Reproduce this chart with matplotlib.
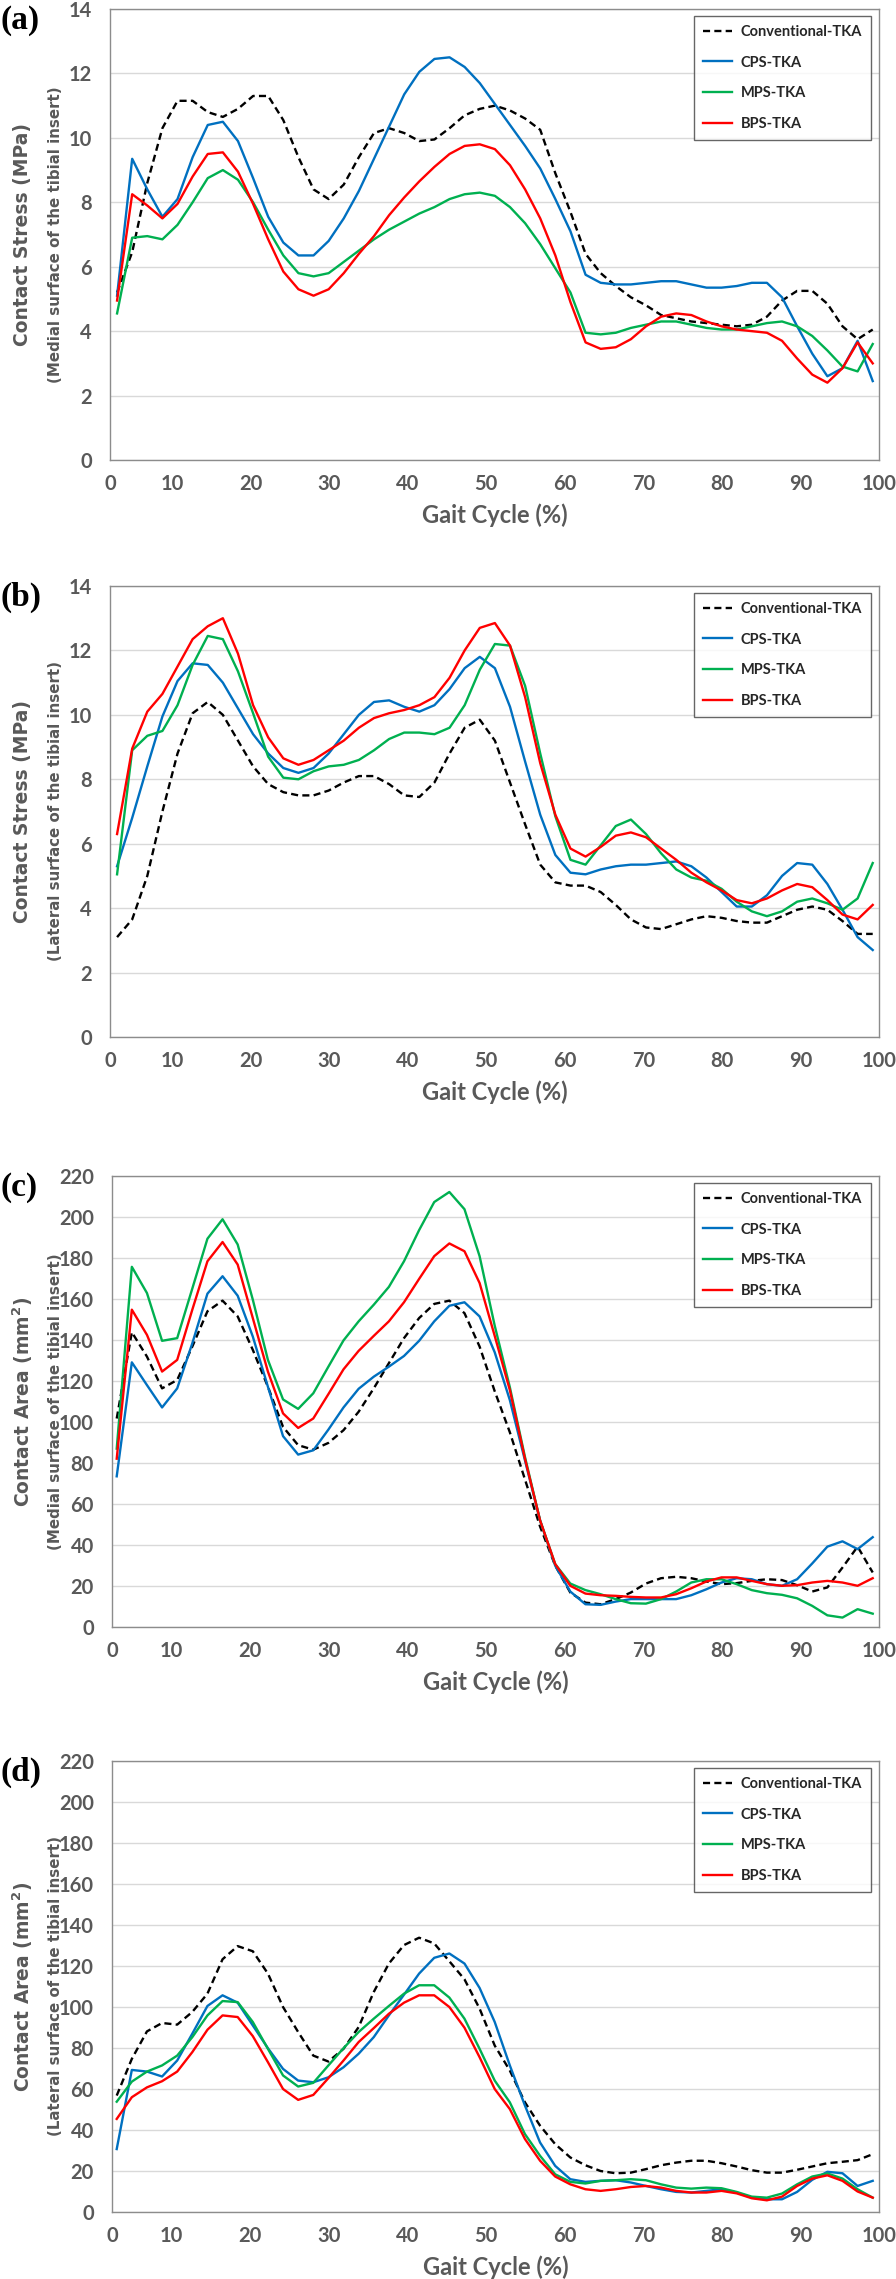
import numpy as np
import matplotlib
matplotlib.use("Agg")
import matplotlib.pyplot as plt
from matplotlib import font_manager
from matplotlib.transforms import offset_copy

# Gait cycle sampling (51 samples)
gait = np.linspace(3.0, 99.2, 51)

# (a) contact stress, medial surface (MPa)
a_conv = [5.2, 6.45, 8.6, 10.3, 11.15, 11.15, 10.8, 10.65, 10.9, 11.3, 11.3, 10.55, 9.4, 8.4, 8.1, 8.55, 9.4,
          10.15, 10.3, 10.15, 9.9, 9.95, 10.3, 10.7, 10.9, 11.0, 10.85, 10.6, 10.25, 8.9, 7.7, 6.4, 5.8, 5.4,
          5.05, 4.8, 4.5, 4.4, 4.3, 4.25, 4.2, 4.15, 4.2, 4.45, 4.95, 5.25, 5.25, 4.85, 4.15, 3.75, 4.05]
a_cps = [5.1, 9.35, 8.4, 7.55, 8.1, 9.4, 10.4, 10.5, 9.9, 8.75, 7.55, 6.75, 6.35, 6.35, 6.8, 7.5, 8.35, 9.35,
         10.35, 11.35, 12.05, 12.45, 12.5, 12.2, 11.7, 11.05, 10.4, 9.75, 9.05, 8.1, 7.1, 5.75, 5.5, 5.45,
         5.45, 5.5, 5.55, 5.55, 5.45, 5.35, 5.35, 5.4, 5.5, 5.5, 5.05, 4.15, 3.3, 2.6, 2.85, 3.7, 2.45]
a_mps = [4.55, 6.9, 6.95, 6.85, 7.3, 8.0, 8.75, 9.0, 8.7, 8.0, 7.15, 6.35, 5.8, 5.7, 5.8, 6.15, 6.5, 6.85,
         7.15, 7.4, 7.65, 7.85, 8.1, 8.25, 8.3, 8.2, 7.85, 7.35, 6.7, 5.95, 5.2, 3.95, 3.9, 3.95, 4.1, 4.2,
         4.3, 4.3, 4.2, 4.1, 4.05, 4.05, 4.15, 4.25, 4.3, 4.15, 3.85, 3.4, 2.9, 2.75, 3.6]
a_bps = [4.95, 8.25, 7.9, 7.5, 7.95, 8.8, 9.5, 9.55, 8.95, 7.95, 6.85, 5.85, 5.3, 5.1, 5.3, 5.8, 6.4, 6.95,
         7.6, 8.15, 8.65, 9.1, 9.5, 9.75, 9.8, 9.65, 9.15, 8.4, 7.5, 6.35, 4.9, 3.65, 3.45, 3.5, 3.75, 4.15,
         4.45, 4.55, 4.5, 4.3, 4.15, 4.05, 4.0, 3.95, 3.7, 3.15, 2.65, 2.4, 2.85, 3.65, 3.0]

# (b) contact stress, lateral surface (MPa)
b_conv = [3.1, 3.65, 5.0, 7.0, 8.8, 10.05, 10.4, 10.0, 9.2, 8.4, 7.85, 7.6, 7.5, 7.5, 7.65, 7.9, 8.1, 8.1,
          7.85, 7.5, 7.45, 7.9, 8.8, 9.6, 9.85, 9.2, 7.9, 6.6, 5.35, 4.8, 4.7, 4.7, 4.5, 4.1, 3.65, 3.4,
          3.35, 3.5, 3.65, 3.75, 3.7, 3.6, 3.55, 3.55, 3.75, 3.95, 4.05, 3.95, 3.6, 3.2, 3.2]
b_cps = [5.3, 6.8, 8.4, 9.95, 11.05, 11.6, 11.55, 11.0, 10.2, 9.4, 8.8, 8.35, 8.2, 8.35, 8.8, 9.4, 10.0, 10.4,
         10.45, 10.25, 10.1, 10.3, 10.8, 11.45, 11.8, 11.45, 10.25, 8.55, 6.9, 5.65, 5.1, 5.05, 5.2, 5.3,
         5.35, 5.35, 5.4, 5.45, 5.3, 4.95, 4.5, 4.05, 4.05, 4.4, 5.0, 5.4, 5.35, 4.75, 3.95, 3.1, 2.7]
b_mps = [5.05, 8.9, 9.35, 9.5, 10.3, 11.55, 12.45, 12.35, 11.35, 10.05, 8.7, 8.05, 8.0, 8.25, 8.4, 8.45, 8.6,
         8.9, 9.25, 9.45, 9.45, 9.4, 9.6, 10.3, 11.4, 12.2, 12.15, 10.9, 8.8, 6.85, 5.5, 5.35, 5.95, 6.55,
         6.75, 6.3, 5.7, 5.2, 4.95, 4.85, 4.6, 4.2, 3.9, 3.75, 3.9, 4.2, 4.3, 4.15, 3.95, 4.3, 5.4]
b_bps = [6.3, 8.95, 10.1, 10.65, 11.5, 12.35, 12.75, 13.0, 11.9, 10.3, 9.3, 8.65, 8.45, 8.6, 8.9, 9.2, 9.6,
         9.9, 10.05, 10.15, 10.3, 10.55, 11.15, 12.0, 12.7, 12.85, 12.15, 10.55, 8.5, 6.9, 5.85, 5.6, 5.9,
         6.25, 6.35, 6.2, 5.85, 5.5, 5.1, 4.8, 4.55, 4.25, 4.15, 4.3, 4.55, 4.75, 4.65, 4.25, 3.8, 3.65, 4.1]

# (c) contact area, medial surface (mm2)
c_conv = [101.7, 143.8, 131.9, 116.4, 120.5, 136.8, 154, 159.2, 151.5, 135.2, 117.2, 97.6, 88.7, 86.5, 89.8,
          96, 105, 116.4, 128.7, 140.9, 150.7, 157.6, 159.2, 153.1, 136.8, 115, 95, 72, 49, 30, 16.8, 11.9,
          11.1, 13.6, 16.8, 21.2, 23.8, 24.5, 23.8, 22.2, 20.9, 21.4, 22.5, 23.3, 22.9, 20.4, 17.3, 19.3, 29,
          39.2, 26.6]
c_cps = [73.5, 129.1, 118, 107.1, 116.4, 138.4, 162.6, 171.1, 161.6, 141.7, 117.2, 93.1, 84.1, 86.2, 96.3,
         107.1, 116.2, 122.1, 127, 132.2, 139.6, 149.1, 156.7, 158.4, 151.5, 134, 110.7, 81.3, 52, 29.9, 17.3,
         11.1, 10.8, 12.4, 13.6, 13.6, 13.6, 13.6, 15.5, 18.4, 21.7, 23.8, 23.3, 20.9, 20.1, 23.3, 31, 39.2,
         41.8, 38, 43.8]
c_mps = [87, 175.7, 162.9, 139.6, 140.9, 165.1, 189.4, 198.9, 186.6, 159.7, 130.3, 111, 106.4, 114, 127,
         139.8, 149.1, 157.2, 165.9, 178.4, 193.6, 207.3, 212.2, 203.8, 180.9, 147, 117, 83, 52, 30.7, 21.2,
         18, 16, 13.6, 11.6, 11.4, 13.6, 17.3, 21.7, 23.3, 23.3, 20.9, 18, 16.5, 15.7, 14, 10.3, 5.7, 4.6,
         8.7, 6.5]
c_bps = [82.1, 154.8, 142.5, 124.6, 130.3, 154.8, 178.4, 187.8, 176.8, 150.7, 124.6, 104.2, 97.1, 101.7,
         113.6, 125.7, 134.7, 142, 149.1, 158.4, 169.8, 180.9, 187.1, 183.3, 167.8, 142, 115.6, 82.1, 52, 30.7,
         20.1, 16.3, 15.5, 15.2, 14.7, 14.4, 14.4, 16, 18.9, 22.2, 24.2, 24.2, 22.5, 20.9, 20.1, 20.4, 21.7,
         22.5, 21.7, 20.1, 23.8]

# (d) contact area, lateral surface (mm2)
d_conv = [56.8, 74.7, 88.1, 92.2, 91.4, 97.6, 106.5, 123.3, 129.7, 127.2, 116.3, 100, 87.8, 76.3, 73.4, 79.6,
          90.2, 107.3, 121.2, 130.2, 133.8, 131, 122.3, 113.5, 99.2, 81.2, 69, 53.5, 42.1, 33.1, 26.6, 22.8,
          20, 18.9, 19.2, 20.9, 22.8, 24.1, 25, 25, 23.8, 22.2, 20.4, 19.2, 19.2, 20.6, 22.2, 23.8, 24.5, 25.3,
          28.2]
d_cps = [30.7, 69.3, 68.5, 66.1, 73.9, 87, 100.5, 105.7, 102.1, 91, 79.9, 69.8, 64.1, 63.3, 65.7, 70.6, 77.2,
         85.3, 95.9, 106, 116.3, 124, 126.1, 121.2, 109.3, 92.7, 71.5, 51.9, 33.9, 22.5, 16, 14.7, 15.2, 15.5,
         14.4, 12.7, 11.1, 9.8, 9.5, 10.3, 11.1, 9.5, 7.0, 6.2, 6.2, 9.8, 15.7, 19.6, 18.9, 12.7, 15.2]
d_mps = [53.8, 63.6, 68.5, 71.5, 76.3, 85.3, 95.9, 102.9, 102.4, 92.7, 79.6, 66.6, 61.2, 63, 71.5, 79.9, 87.8,
         94.3, 100.5, 106.5, 110.6, 110.6, 104.6, 94.3, 79.6, 64.1, 53.5, 38, 27.4, 18.4, 14.7, 13.9, 15.2,
         15.5, 16, 15.5, 13.5, 11.9, 11.4, 11.9, 11.6, 9.8, 7.5, 7.0, 9.0, 13.5, 17.3, 18.8, 16.3, 11.1, 7.0]
d_bps = [45.4, 56, 60.8, 63.8, 68.5, 78, 88.9, 95.9, 95.1, 85.8, 73.1, 60, 54.7, 57.1, 65.3, 73.9, 82.9, 89.7,
         96.7, 102.1, 105.7, 105.7, 100, 89.9, 75.5, 60, 50.2, 35.6, 25, 17.3, 13.5, 11.1, 10.3, 11.1, 12.2,
         12.7, 11.9, 10.3, 9.5, 9.5, 10.3, 9.1, 6.7, 5.7, 7.5, 12.7, 16.3, 17.9, 15.2, 10, 7.0]

series_names = ["Conventional-TKA", "CPS-TKA", "MPS-TKA", "BPS-TKA"]
series_colors = ["black", "#0070C0", "#00B050", "#FF0000"]

panel_labels = ["(a)", "(b)", "(c)", "(d)"]
ylabel_main = ["Contact Stress (MPa)", "Contact Stress (MPa)",
               "Contact Area (mm$^\\mathbf{2}$)", "Contact Area (mm$^\\mathbf{2}$)"]
ylabel_sub = ["(Medial surface of the tibial insert)", "(Lateral surface of the tibial insert)",
              "(Medial surface of the tibial insert)", "(Lateral surface of the tibial insert)"]
ylims = [(0, 14, 2), (0, 14, 2), (0, 220, 20), (0, 220, 20)]
x_left = [2.1, 2.1, 2.4, 2.4]   # the plot area starts a little after 0 in the original
x_ticks = [10, 20, 30, 40, 50, 60, 70, 80, 90, 100]
panel_data = [(a_conv, a_cps, a_mps, a_bps), (b_conv, b_cps, b_mps, b_bps),
              (c_conv, c_cps, c_mps, c_bps), (d_conv, d_cps, d_mps, d_bps)]

# layout, in pixels of the 896x2279 canvas: (left, top, right, bottom)
boxes = [(110, 9, 879, 460), (110, 586, 879, 1037), (112, 1176, 879, 1627), (112, 1761, 879, 2212)]

W, H = 896, 2279
available = {f.name for f in font_manager.fontManager.ttflist}
narrow = "Liberation Sans Narrow" if "Liberation Sans Narrow" in available else "Lato"
GRAY = "#595959"

fig = plt.figure(figsize=(W / 100, H / 100), dpi=100)

for k in range(4):
    left, top, right, bottom = boxes[k]
    ax = fig.add_axes([left / W, 1 - bottom / H, (right - left) / W, (bottom - top) / H])
    ymin, ymax, ystep = ylims[k]

    for vals, name, col in zip(panel_data[k], series_names, series_colors):
        if name == "Conventional-TKA":
            ax.plot(gait, vals, color=col, lw=1.7, dashes=(3.0, 1.8), label=name)
        else:
            ax.plot(gait, vals, color=col, lw=1.7, label=name)

    ax.set_xlim(x_left[k], 100)
    ax.set_ylim(ymin, ymax)
    ax.set_xticks([x_left[k]] + x_ticks, ["0"] + [str(t) for t in x_ticks])
    ax.set_yticks(np.arange(ymin, ymax + 1, ystep))
    ax.grid(axis="y", color="#D9D9D9", lw=1.0)
    ax.set_axisbelow(True)
    for sp in ax.spines.values():
        sp.set_color("#8C8C8C")
        sp.set_linewidth(1.0)
    ax.tick_params(length=0, labelsize=14.5, labelcolor=GRAY)
    ax.tick_params(axis="y", pad=13)
    ax.tick_params(axis="x", pad=10)
    for t in ax.get_xticklabels() + ax.get_yticklabels():
        t.set_fontfamily(narrow)
        t.set_fontweight("bold")

    leg = ax.legend(loc="upper right", bbox_to_anchor=(1 - 8 / (right - left), 1 - 7 / (bottom - top)),
                    borderaxespad=0, frameon=True, fancybox=False, handlelength=2.0, handletextpad=0.6,
                    labelspacing=1.15, borderpad=0.6,
                    prop={"family": narrow, "weight": "bold", "size": 10.5})
    leg.get_frame().set_edgecolor("#404040")
    leg.get_frame().set_linewidth(1.0)
    for t in leg.get_texts():
        t.set_color("#262626")

    # x-axis title
    ax.text(0.5, 0, "Gait Cycle (%)", transform=offset_copy(ax.transAxes, fig=fig, y=-55, units="dots"),
            ha="center", va="center", fontsize=17, fontweight="bold", color=GRAY, family=narrow)

    # two-line y-axis title
    yc = 1 - (top + bottom) / 2 / H
    fig.text(23 / W, yc, ylabel_main[k], rotation=90, ha="center", va="center",
             fontsize=13.5, fontweight="bold", color=GRAY, family="DejaVu Sans")
    fig.text(56 / W, yc, ylabel_sub[k], rotation=90, ha="center", va="center",
             fontsize=10.8, fontweight="bold", color=GRAY, family="DejaVu Sans")

    # panel letter
    fig.text(1 / W, 1 - (top - 4) / H, panel_labels[k], ha="left", va="top",
             fontsize=24, fontweight="bold", family="Liberation Serif", color="black")

fig.savefig("out.png", dpi=100)
